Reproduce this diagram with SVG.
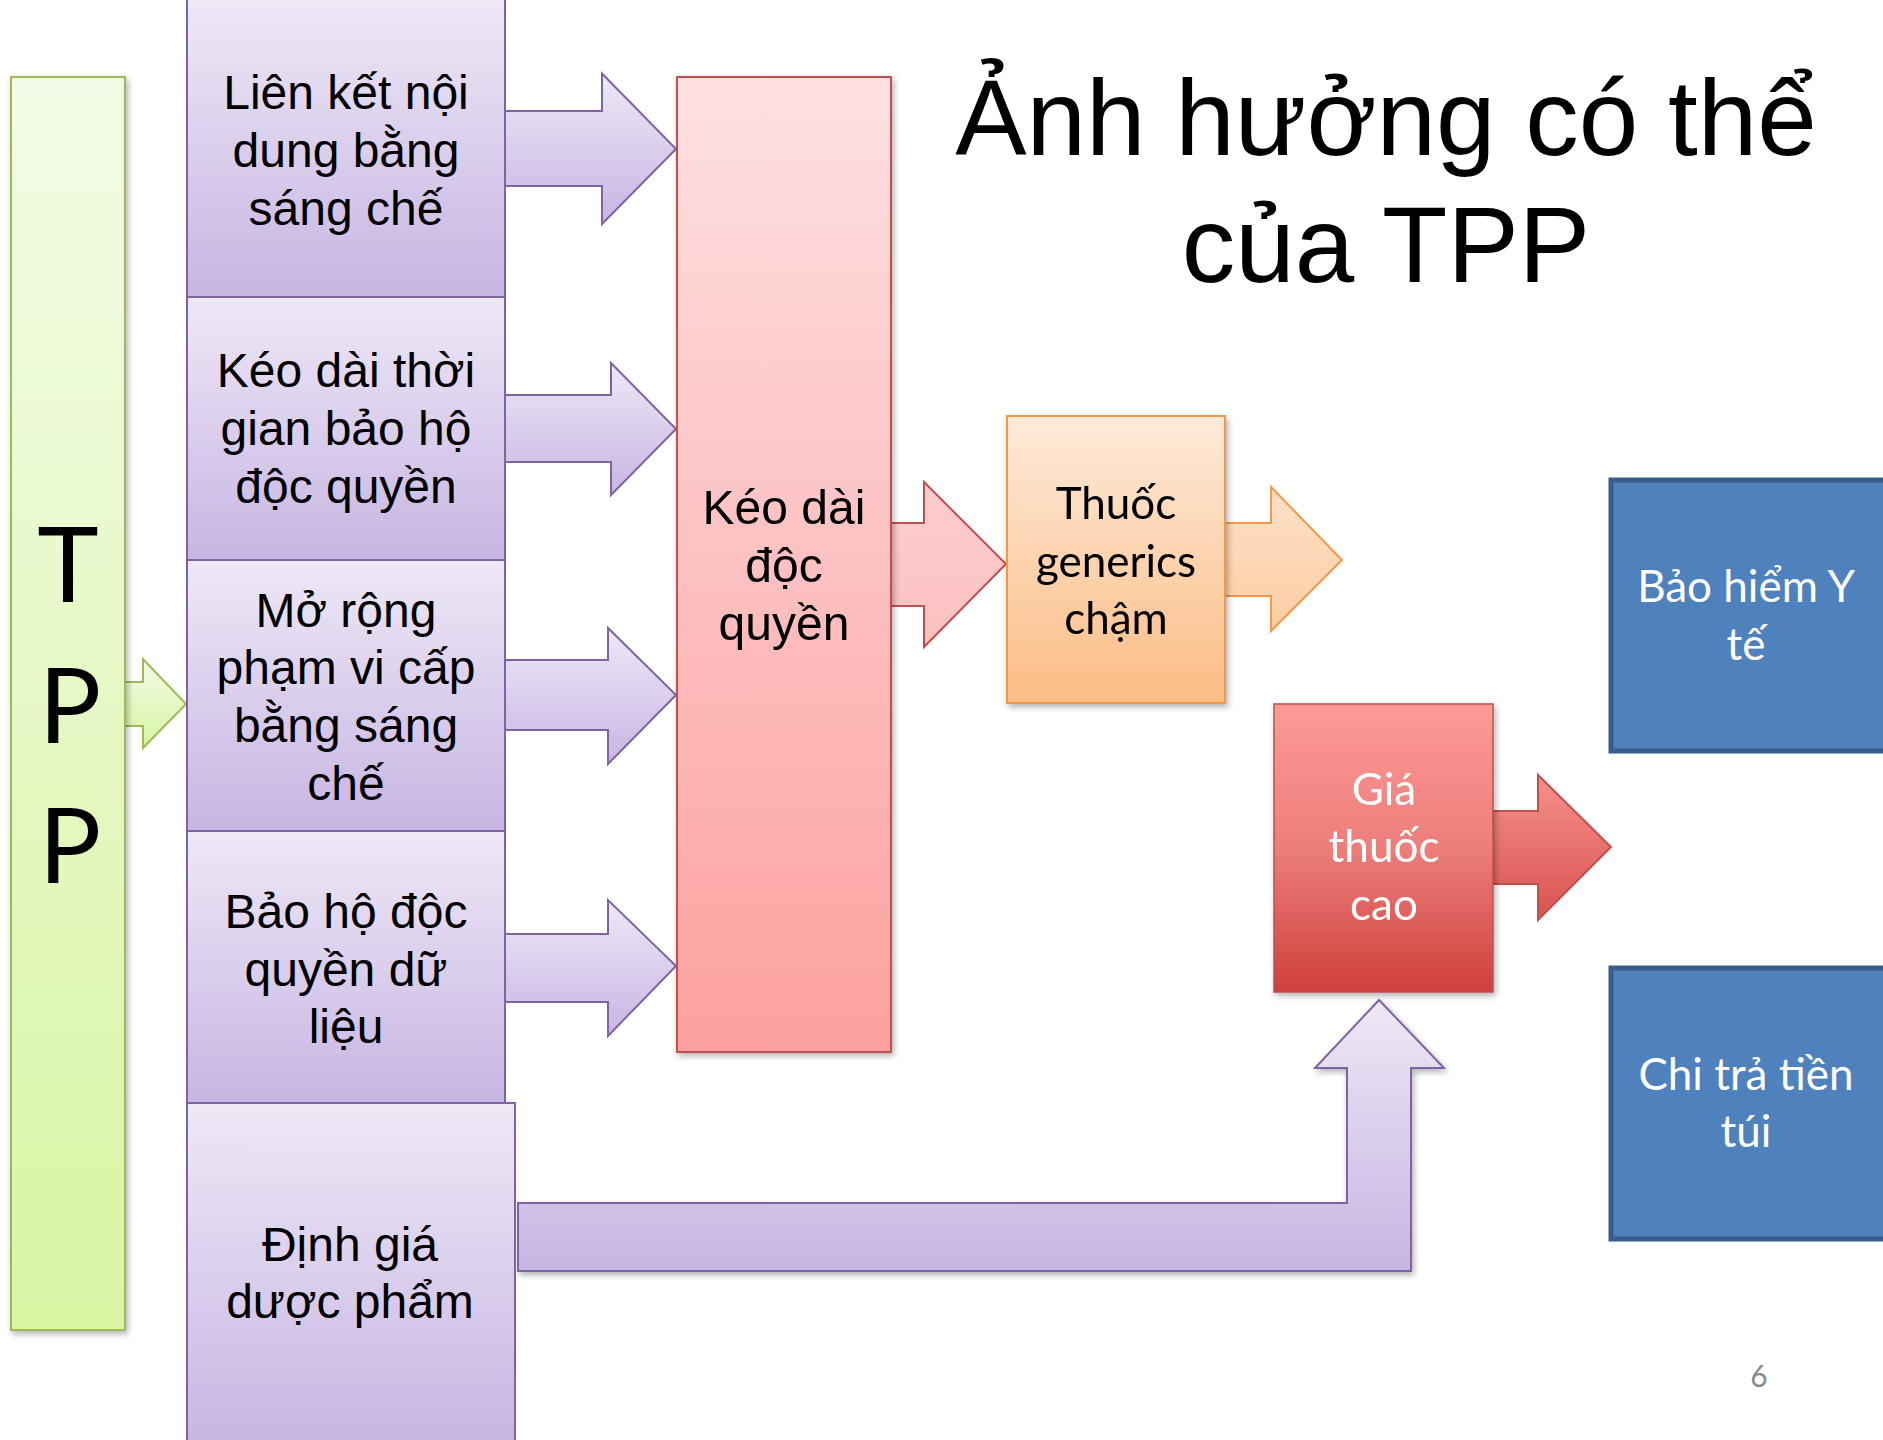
<svg xmlns="http://www.w3.org/2000/svg" width="1883" height="1440" viewBox="0 0 1883 1440">
<defs>
<linearGradient id="gGreen" x1="0" y1="0" x2="0" y2="1"><stop offset="0" stop-color="#F3FBE6"/><stop offset="1" stop-color="#D8F5A3"/></linearGradient>
<linearGradient id="gPurple" x1="0" y1="0" x2="0" y2="1"><stop offset="0" stop-color="#EEE8F6"/><stop offset="1" stop-color="#C7B5E3"/></linearGradient>
<linearGradient id="gPink" x1="0" y1="0" x2="0" y2="1"><stop offset="0" stop-color="#FEE0E2"/><stop offset="1" stop-color="#FCA19F"/></linearGradient>
<linearGradient id="gPinkArrow" x1="0" y1="0" x2="0" y2="1"><stop offset="0" stop-color="#FDCDCF"/><stop offset="1" stop-color="#FCC0C0"/></linearGradient>
<linearGradient id="gOrange" x1="0" y1="0" x2="0" y2="1"><stop offset="0" stop-color="#FEEADA"/><stop offset="1" stop-color="#FBBD85"/></linearGradient>
<linearGradient id="gOrangeArrow" x1="0" y1="0" x2="0" y2="1"><stop offset="0" stop-color="#FEE0C6"/><stop offset="1" stop-color="#FCCEA5"/></linearGradient>
<linearGradient id="gRed" x1="0" y1="0" x2="0" y2="1"><stop offset="0" stop-color="#FD9A98"/><stop offset="0.5" stop-color="#EC7E7A"/><stop offset="1" stop-color="#CF403C"/></linearGradient>
<linearGradient id="gRedArrow" x1="0" y1="0" x2="0" y2="1"><stop offset="0" stop-color="#F6908C"/><stop offset="1" stop-color="#D9524E"/></linearGradient>
<filter id="sh" x="-10%" y="-10%" width="130%" height="130%"><feDropShadow dx="2" dy="3" stdDeviation="3" flood-color="#000" flood-opacity="0.3"/></filter>
</defs>
<style>
.pbox{fill:url(#gPurple);stroke:#8064A2;stroke-width:2}
.parrow{fill:url(#gPurple);stroke:#8064A2;stroke-width:2;stroke-linejoin:miter}
.ar{font-family:"Liberation Sans",Arial,sans-serif;font-size:48px;fill:#000;text-anchor:middle}
.cal{font-family:Lato,"Noto Sans",sans-serif;font-size:44px;text-anchor:middle}
.blue{fill:#4F81BD;stroke:#385D8A;stroke-width:5}
</style>
<rect width="1883" height="1440" fill="#FFFFFF"/>

<g id="title">
<text x="1386" y="155" font-family="Liberation Sans, Arial, sans-serif" font-size="107" text-anchor="middle" fill="#000">Ảnh hưởng có thể</text>
<text x="1386" y="282" font-family="Liberation Sans, Arial, sans-serif" font-size="107" text-anchor="middle" fill="#000">của TPP</text>
</g>

<g id="connectors">
<polygon class="parrow" points="505,111 602,111 602,73.5 676,149 602,224 602,186 505,186"/>
<polygon class="parrow" points="505,395 611,395 611,363 676,429 611,495 611,462 505,462"/>
<polygon class="parrow" points="505,660 608,660 608,628 676,695 608,764 608,730 505,730"/>
<polygon class="parrow" points="505,934 608,934 608,900 676,966 608,1036 608,1002 505,1002"/>
<polygon points="125,682 143,682 143,659 186,704 143,748 143,726 125,726" fill="url(#gGreen)" stroke="#9BBB59" stroke-width="2"/>
<polygon points="891,523 924,523 924,482 1006,564 924,647 924,606 891,606" fill="url(#gPinkArrow)" stroke="#C0504D" stroke-width="2"/>
<polygon points="1225,523 1271,523 1271,487 1342,560 1271,631 1271,596 1225,596" fill="url(#gOrangeArrow)" stroke="#F79646" stroke-width="2"/>
<polygon points="1493,811 1538,811 1538,775 1611,847 1538,920 1538,884 1493,884" fill="url(#gRedArrow)" stroke="#C0504D" stroke-width="2"/>
<polygon class="parrow" filter="url(#sh)" points="518,1203 1347,1203 1347,1068 1315,1068 1379,1000 1444,1068 1411,1068 1411,1271 518,1271"/>
</g>

<g id="tpp" filter="url(#sh)">
<rect x="11" y="77" width="114" height="1253" fill="url(#gGreen)" stroke="#9BBB59" stroke-width="2"/>
<text x="68" y="602" font-family="Lato, sans-serif" font-size="104" text-anchor="middle" fill="#000">T</text>
<text x="70" y="743" font-family="Lato, sans-serif" font-size="104" text-anchor="middle" fill="#000">P</text>
<text x="70" y="883" font-family="Lato, sans-serif" font-size="104" text-anchor="middle" fill="#000">P</text>
</g>

<g id="box-lien-ket">
<rect class="pbox" x="187" y="-1" width="318" height="298"/>
<text class="ar" x="346" y="109">Liên kết nội</text>
<text class="ar" x="346" y="167">dung bằng</text>
<text class="ar" x="346" y="225">sáng chế</text>
</g>

<g id="box-keo-dai-thoi-gian">
<rect class="pbox" x="187" y="297" width="318" height="263"/>
<text class="ar" x="346" y="387">Kéo dài thời</text>
<text class="ar" x="346" y="445">gian bảo hộ</text>
<text class="ar" x="346" y="503">độc quyền</text>
</g>

<g id="box-mo-rong">
<rect class="pbox" x="187" y="560" width="318" height="271"/>
<text class="ar" x="346" y="627">Mở rộng</text>
<text class="ar" x="346" y="684">phạm vi cấp</text>
<text class="ar" x="346" y="742">bằng sáng</text>
<text class="ar" x="346" y="800">chế</text>
</g>

<g id="box-bao-ho">
<rect class="pbox" x="187" y="831" width="318" height="272"/>
<text class="ar" x="346" y="928">Bảo hộ độc</text>
<text class="ar" x="346" y="986">quyền dữ</text>
<text class="ar" x="346" y="1043">liệu</text>
</g>

<g id="box-dinh-gia">
<rect class="pbox" x="187" y="1103" width="328" height="345"/>
<text class="ar" x="350" y="1261">Định giá</text>
<text class="ar" x="350" y="1318">dược phẩm</text>
</g>

<g id="box-keo-dai-doc-quyen" filter="url(#sh)">
<rect x="677" y="77" width="214" height="975" fill="url(#gPink)" stroke="#C0504D" stroke-width="2"/>
<text class="ar" x="784" y="524">Kéo dài</text>
<text class="ar" x="784" y="582">độc</text>
<text class="ar" x="784" y="640">quyền</text>
</g>

<g id="box-generics" filter="url(#sh)">
<rect x="1007" y="416" width="218" height="287" fill="url(#gOrange)" stroke="#F79646" stroke-width="2"/>
<text class="cal" x="1116" y="519" fill="#000">Thuốc</text>
<text class="cal" x="1116" y="577" fill="#000">generics</text>
<text class="cal" x="1116" y="634" fill="#000">chậm</text>
</g>

<g id="box-gia-thuoc" filter="url(#sh)">
<rect x="1274" y="704" width="219" height="288" fill="url(#gRed)" stroke="#C0504D" stroke-width="1.5"/>
<text class="cal" x="1384" y="805" fill="#FFFFFF">Giá</text>
<text class="cal" x="1384" y="862" fill="#FFFFFF">thuốc</text>
<text class="cal" x="1384" y="920" fill="#FFFFFF">cao</text>
</g>

<g id="box-bao-hiem">
<rect class="blue" x="1611" y="480" width="290" height="271"/>
<text class="cal" x="1746" y="602" fill="#FFFFFF">Bảo hiểm Y</text>
<text class="cal" x="1746" y="660" fill="#FFFFFF">tế</text>
</g>

<g id="box-chi-tra">
<rect class="blue" x="1611" y="968" width="290" height="271"/>
<text class="cal" x="1746" y="1090" fill="#FFFFFF">Chi trả tiền</text>
<text class="cal" x="1746" y="1147" fill="#FFFFFF">túi</text>
</g>

<text id="page-number" x="1759" y="1387" font-family="Lato, sans-serif" font-size="30" text-anchor="middle" fill="#8B8B8B">6</text>
</svg>
